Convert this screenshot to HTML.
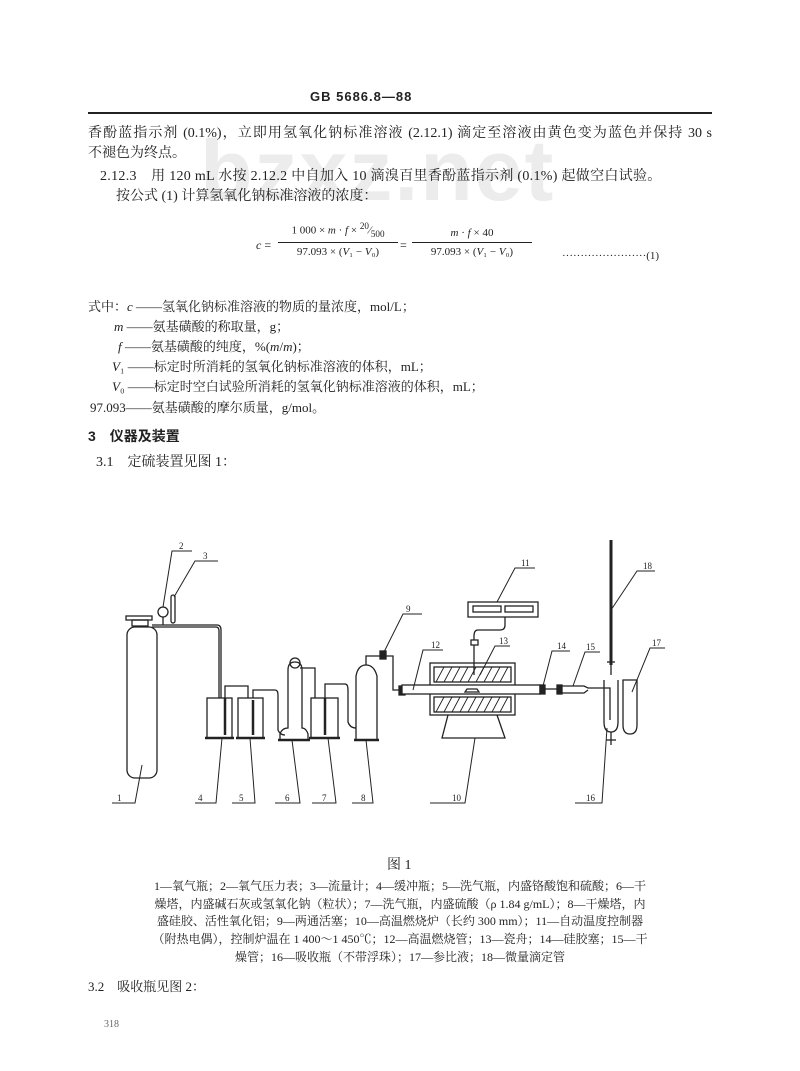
<!DOCTYPE html>
<html><head><meta charset="utf-8"><style>
body{margin:0;background:#fff;}
#p{position:relative;width:800px;height:1071px;overflow:hidden;background:#fff;font-family:"Liberation Serif","Noto Serif CJK SC",serif;color:#222;font-size:14px;}
.t{position:absolute;white-space:nowrap;line-height:1;}
.j{position:absolute;white-space:nowrap;line-height:1;text-align:justify;text-align-last:justify;}
.c{text-align:center;}
.lg{position:absolute;left:100px;width:600px;text-align:center;font-size:12px;line-height:1;white-space:nowrap;}
i{font-style:italic}
</style></head><body><div id="p">
<div class="t" style="left:200px;top:128px;font-family:'Liberation Sans',sans-serif;font-weight:bold;font-size:86px;color:#ececec;letter-spacing:2px">bzxz.net</div>
<div class="t" style="left:310px;top:90px;font-family:'Liberation Sans',sans-serif;font-weight:bold;font-size:13px;letter-spacing:1px">GB 5686.8—88</div>
<div style="position:absolute;left:88px;top:112px;width:624px;height:2px;background:#222"></div>
<div class="j" style="left:88px;top:127px;width:624px">香酚蓝指示剂 (0.1%)，立即用氢氧化钠标准溶液 (2.12.1) 滴定至溶液由黄色变为蓝色并保持 30 s</div>
<div class="t" style="left:88px;top:147px">不褪色为终点。</div>
<div class="t" style="left:100px;top:170px;letter-spacing:0.3px">2.12.3　用 120 mL 水按 2.12.2 中自加入 10 滴溴百里香酚蓝指示剂 (0.1%) 起做空白试验。</div>
<div class="t" style="left:116px;top:190px">按公式 (1) 计算氢氧化钠标准溶液的浓度：</div>
<div class="t" style="left:256px;top:239px;font-size:12px"><i>c</i> =</div>
<div class="t c" style="left:278px;top:222px;width:120px;font-size:11px">1 000 × <i>m</i> · <i>f</i> × <sup>20</sup>⁄<sub>500</sub></div>
<div style="position:absolute;left:278px;top:242px;width:120px;height:1px;background:#222"></div>
<div class="t c" style="left:278px;top:247px;width:120px;font-size:11px">97.093 × (<i>V</i>₁ − <i>V</i>₀)</div>
<div class="t" style="left:400px;top:239px;font-size:12px">=</div>
<div class="t c" style="left:412px;top:228px;width:120px;font-size:11px"><i>m</i> · <i>f</i> × 40</div>
<div style="position:absolute;left:412px;top:242px;width:120px;height:1px;background:#222"></div>
<div class="t c" style="left:412px;top:247px;width:120px;font-size:11px">97.093 × (<i>V</i>₁ − <i>V</i>₀)</div>
<div class="t" style="left:562px;top:251px;font-size:11px">·······················(1)</div>
<div style="font-size:13px">
<div class="t" style="left:88px;top:300px">式中：<i>c</i> ——氢氧化钠标准溶液的物质的量浓度，mol/L；</div>
<div class="t" style="left:114px;top:320px"><i>m</i> ——氨基磺酸的称取量，g；</div>
<div class="t" style="left:118px;top:340px"><i>f</i> ——氨基磺酸的纯度，%(<i>m</i>/<i>m</i>)；</div>
<div class="t" style="left:112px;top:360px"><i>V</i>₁ ——标定时所消耗的氢氧化钠标准溶液的体积，mL；</div>
<div class="t" style="left:112px;top:380px"><i>V</i>₀ ——标定时空白试验所消耗的氢氧化钠标准溶液的体积，mL；</div>
<div class="t" style="left:90px;top:401px">97.093——氨基磺酸的摩尔质量，g/mol。</div>
</div>
<div class="t" style="left:88px;top:429px;font-weight:bold;font-family:'Liberation Sans','Noto Sans CJK SC',sans-serif">3　仪器及装置</div>
<div class="t" style="left:96px;top:456px">3.1　定硫装置见图 1：</div>

<svg style="position:absolute;left:0;top:0" width="800" height="1071" fill="none" stroke="#222" stroke-width="1.3">
<rect x="127" y="627" width="30" height="151" rx="8"/>
<rect x="126" y="616" width="26" height="4"/><rect x="132" y="620" width="16" height="6"/>
<circle cx="163" cy="612" r="5"/><line x1="163" y1="617" x2="163" y2="625"/>
<rect x="171" y="595" width="4" height="28" rx="2"/>
<path d="M152 625 H217 Q221 625 221 630 V698"/><path d="M152 627 H216 Q219 627 219 631 V698"/>
<rect x="207" y="698" width="25" height="40"/><line x1="205" y1="738" x2="234" y2="738" stroke-width="2.5"/>
<rect x="238" y="698" width="25" height="40"/><line x1="236" y1="738" x2="265" y2="738" stroke-width="2.5"/>
<line x1="225" y1="698" x2="225" y2="735" stroke-width="2.5"/><line x1="253" y1="700" x2="253" y2="735" stroke-width="2.5"/>
<path d="M225 698 V686 H248 V698"/>
<path d="M253 698 V690 H275 Q278 690 278 695 V730 Q280 735 285 735"/>
<path d="M280 740 V734 Q282 728 288 728 V670 Q288 662 295 662 Q302 662 302 670 V728 Q306 728 308 734 V740 Z"/>
<ellipse cx="295" cy="663" rx="5" ry="5"/>
<line x1="278" y1="740" x2="310" y2="740" stroke-width="2.5"/>
<path d="M300 668 H315 V698"/>
<rect x="311" y="698" width="27" height="40"/><line x1="309" y1="738" x2="340" y2="738" stroke-width="2.5"/>
<line x1="325" y1="698" x2="325" y2="735" stroke-width="2.5"/>
<path d="M325 698 V684 H345 Q348 684 348 690 V722 Q350 728 356 728"/>
<path d="M356 740 V676 Q358 665 366 665 Q374 665 377 676 V740 Z"/>
<line x1="354" y1="740" x2="379" y2="740" stroke-width="2.5"/>
<path d="M366 665 V656 H393 V690 H402"/>
<rect x="380" y="651" width="6" height="8" fill="#222"/>
<rect x="399" y="686" width="6" height="9" fill="#222"/>
<rect x="430" y="663" width="85" height="52"/>
<rect x="434" y="667" width="77" height="15"/><rect x="434" y="697" width="77" height="15"/>
<g stroke-width="0.9">
<path d="M436 682 l8 -15 M444 682 l8 -15 M452 682 l8 -15 M460 682 l8 -15 M468 682 l8 -15 M476 682 l8 -15 M484 682 l8 -15 M492 682 l8 -15 M500 682 l8 -15"/>
<path d="M436 712 l8 -15 M444 712 l8 -15 M452 712 l8 -15 M460 712 l8 -15 M468 712 l8 -15 M476 712 l8 -15 M484 712 l8 -15 M492 712 l8 -15 M500 712 l8 -15"/>
</g>
<rect x="402" y="685" width="138" height="9" fill="#fff"/>
<path d="M465 692 h14 l-2 -3 h-10z"/>
<path d="M448 715 L442 738 H505 L497 715"/>
<rect x="468" y="602" width="70" height="15"/>
<rect x="473" y="606" width="28" height="6"/><rect x="505" y="606" width="28" height="6"/>
<path d="M505 617 V625 Q505 630 500 630 H478 Q474 630 474 636 V640"/>
<rect x="471" y="640" width="7" height="5"/><line x1="474" y1="645" x2="474" y2="675"/>
<rect x="540" y="685" width="5" height="9" fill="#222"/>
<line x1="545" y1="689" x2="558" y2="689"/>
<rect x="557" y="685" width="5" height="9" fill="#222"/>
<path d="M562 686 H584 L588 688 H610 V720 M562 693 H584 L588 690"/>
<path d="M604 680 V722 Q604 732 611 732 Q618 732 618 722 V680"/>
<line x1="611" y1="732" x2="611" y2="745"/><line x1="606" y1="740" x2="616" y2="740"/>
<path d="M623 680 V725 Q623 734 630 734 Q637 734 637 725 V680 Z"/>
<line x1="611" y1="540" x2="611" y2="665" stroke-width="3"/>
<line x1="607" y1="662" x2="615" y2="662"/><line x1="611" y1="665" x2="611" y2="675"/>
<g stroke-width="1">
<path d="M112 803 H135 L142 765"/><path d="M195 803 H216 L222 738"/><path d="M232 803 H255 L250 738"/>
<path d="M275 803 H300 L292 740"/><path d="M312 803 H336 L328 738"/><path d="M352 803 H373 L366 740"/>
<path d="M430 803 H465 L475 738"/><path d="M575 803 H602 L607 728"/>
<path d="M192 551 H172 L163 607"/><path d="M218 561 H195 L174 597"/>
<path d="M422 614 H403 L384 652"/><path d="M535 568 H515 L497 602"/>
<path d="M443 650 H423 L413 690"/><path d="M510 646 H495 L480 675"/>
<path d="M570 651 H552 L543 686"/><path d="M600 652 H585 L573 686"/>
<path d="M665 648 H650 L632 692"/><path d="M655 571 H637 L611 610"/>
</g>
</svg>
<div style="font-size:9px">
<div class="t" style="left:117px;top:794px">1</div><div class="t" style="left:198px;top:794px">4</div><div class="t" style="left:239px;top:794px">5</div>
<div class="t" style="left:285px;top:794px">6</div><div class="t" style="left:322px;top:794px">7</div><div class="t" style="left:361px;top:794px">8</div>
<div class="t" style="left:452px;top:794px">10</div><div class="t" style="left:586px;top:794px">16</div>
<div class="t" style="left:179px;top:542px">2</div><div class="t" style="left:203px;top:552px">3</div><div class="t" style="left:406px;top:605px">9</div>
<div class="t" style="left:521px;top:559px">11</div><div class="t" style="left:431px;top:641px">12</div><div class="t" style="left:499px;top:637px">13</div>
<div class="t" style="left:557px;top:642px">14</div><div class="t" style="left:586px;top:643px">15</div><div class="t" style="left:652px;top:639px">17</div><div class="t" style="left:643px;top:562px">18</div>
</div>

<div class="t" style="left:387px;top:859px;font-size:14px">图 1</div>
<div class="lg" style="top:880px">1—氧气瓶；2—氧气压力表；3—流量计；4—缓冲瓶；5—洗气瓶，内盛铬酸饱和硫酸；6—干</div>
<div class="lg" style="top:898px">燥塔，内盛碱石灰或氢氧化钠（粒状）；7—洗气瓶，内盛硫酸（ρ 1.84 g/mL）；8—干燥塔，内</div>
<div class="lg" style="top:915px">盛硅胶、活性氧化铝；9—两通活塞；10—高温燃烧炉（长约 300 mm）；11—自动温度控制器</div>
<div class="lg" style="top:933px">（附热电偶），控制炉温在 1 400～1 450℃；12—高温燃烧管；13—瓷舟；14—硅胶塞；15—干</div>
<div class="lg" style="top:951px">燥管；16—吸收瓶（不带浮珠）；17—参比液；18—微量滴定管</div>
<div class="t" style="left:88px;top:980px;font-size:13px">3.2　吸收瓶见图 2：</div>
<div class="t" style="left:104px;top:1020px;font-size:10px;color:#666">318</div>
</div></body></html>
